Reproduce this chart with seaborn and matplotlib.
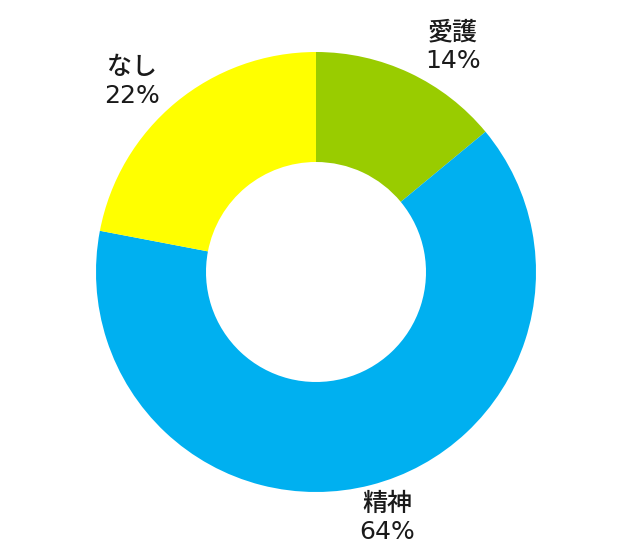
import matplotlib.pyplot as plt
import seaborn as sns

categories = ["愛護", "精神", "なし"]
values = [14, 64, 22]
colors = ["#99CC00", "#00B0F0", "#FFFF00"]
# label anchor points (data coords, pie radius = 1)
label_x = [0.623, 0.323, -0.836]
label_y = [1.025, -1.12, 0.866]

sns.set_theme(style="white")
plt.rcParams["font.family"] = ["Noto Sans CJK JP", "DejaVu Sans"]

fig = plt.figure(figsize=(6.4, 5.6), dpi=100)
ax = fig.add_axes([0, 0, 1, 1])

ax.pie(
    values,
    colors=colors,
    startangle=90,
    counterclock=False,
    radius=1.0,
    wedgeprops=dict(width=0.5, edgecolor="none", linewidth=0),
)

gap = 0.064  # half the distance between the two label lines
for name, v, x, y in zip(categories, values, label_x, label_y):
    ax.text(x, y + gap, name, ha="center", va="center",
            fontsize=18, fontweight="medium", color="#1a1a1a")
    ax.text(x, y - gap, f"{v}%", ha="center", va="center",
            fontsize=18, family="DejaVu Sans", color="#1a1a1a")

ax.set_xlim(-316 / 220, (640 - 316) / 220)
ax.set_ylim(-(560 - 272) / 220, 272 / 220)
ax.set_aspect("auto")
ax.axis("off")

fig.savefig("out.png", dpi=100, facecolor="white")
